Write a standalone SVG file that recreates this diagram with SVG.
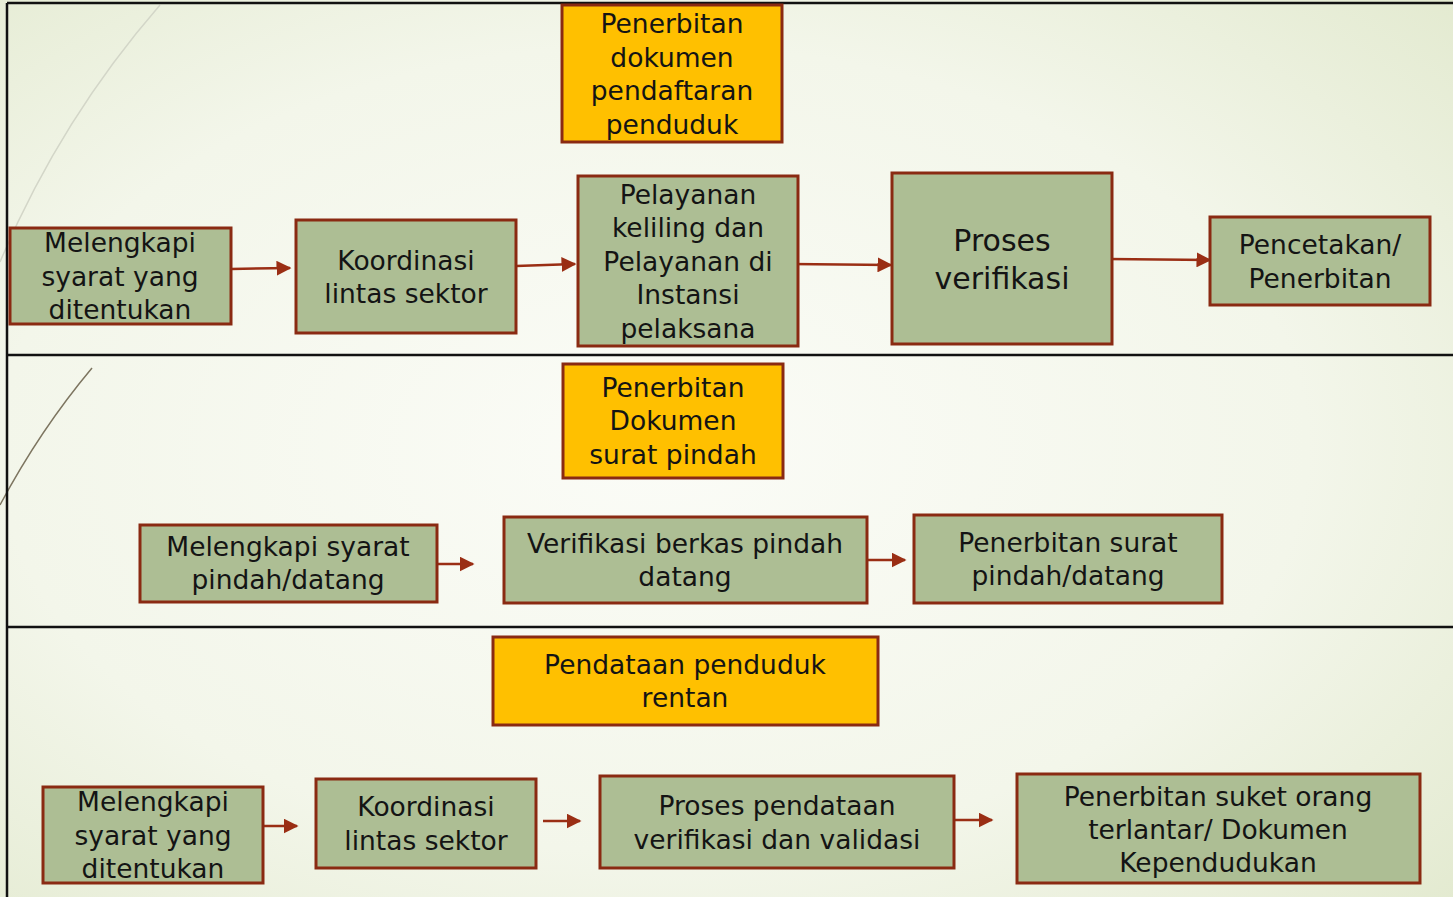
<svg xmlns="http://www.w3.org/2000/svg" width="1453" height="897" viewBox="0 0 1453 897">
<defs>
<radialGradient id="bg" cx="0.45" cy="0.5" r="0.75">
<stop offset="0" stop-color="#fbfcf7"/>
<stop offset="0.6" stop-color="#f3f6ea"/>
<stop offset="1" stop-color="#e3ead0"/>
</radialGradient>
<marker id="ah" viewBox="0 0 10 10" refX="9" refY="5" markerWidth="6" markerHeight="6" markerUnits="strokeWidth" orient="auto">
<path d="M0,0 L10,5 L0,10 z" fill="#9a2e14"/>
</marker>
<style>
.g{fill:#adbe94;stroke:#8a2a12;stroke-width:3}
.y{fill:#ffc000;stroke:#8a2a12;stroke-width:3}
.t{font-family:"DejaVu Sans",sans-serif;font-size:26.5px;fill:#141414;text-anchor:middle}
.tb{font-family:"DejaVu Sans",sans-serif;font-size:30px;fill:#141414;text-anchor:middle}
.c{stroke:#9a2e14;stroke-width:2.5;fill:none;marker-end:url(#ah)}
.ln{stroke:#111;stroke-width:2.5}
</style>
</defs>
<rect width="1453" height="897" fill="url(#bg)"/>
<path d="M160,5 Q60,120 0,262" fill="none" stroke="#d3d6c8" stroke-width="1.5"/>
<path d="M92,368 Q40,430 0,505" fill="none" stroke="#7d7560" stroke-width="1.5"/>
<g id="frame">
<line class="ln" x1="7" y1="3" x2="1453" y2="3"/>
<line class="ln" x1="7" y1="3" x2="7" y2="897"/>
<line class="ln" x1="7" y1="355" x2="1453" y2="355"/>
<line class="ln" x1="7" y1="627" x2="1453" y2="627"/>
</g>
<g id="connectors">
<line class="c" x1="231" y1="269" x2="290" y2="268"/>
<line class="c" x1="516" y1="266" x2="575" y2="264"/>
<line class="c" x1="790" y1="264" x2="891" y2="265"/>
<line class="c" x1="1108" y1="259" x2="1210" y2="260"/>
<line class="c" x1="437" y1="564" x2="473" y2="564"/>
<line class="c" x1="867" y1="560" x2="905" y2="560"/>
<line class="c" x1="260" y1="826" x2="297" y2="826"/>
<line class="c" x1="543" y1="821" x2="580" y2="821"/>
<line class="c" x1="954" y1="820" x2="992" y2="820"/>
</g>
<g id="n1">
<rect class="y" x="562" y="5" width="220" height="137"/>
<text class="t" x="672" y="33">Penerbitan</text>
<text class="t" x="672" y="67">dokumen</text>
<text class="t" x="672" y="100">pendaftaran</text>
<text class="t" x="672" y="134">penduduk</text>
</g>
<g id="n2">
<rect class="g" x="10" y="228" width="221" height="96"/>
<text class="t" x="120" y="252">Melengkapi</text>
<text class="t" x="120" y="286">syarat yang</text>
<text class="t" x="120" y="319">ditentukan</text>
</g>
<g id="n3">
<rect class="g" x="296" y="220" width="220" height="113"/>
<text class="t" x="406" y="270">Koordinasi</text>
<text class="t" x="406" y="303">lintas sektor</text>
</g>
<g id="n4">
<rect class="g" x="578" y="176" width="220" height="170"/>
<text class="t" x="688" y="204">Pelayanan</text>
<text class="t" x="688" y="237">keliling dan</text>
<text class="t" x="688" y="271">Pelayanan di</text>
<text class="t" x="688" y="304">Instansi</text>
<text class="t" x="688" y="338">pelaksana</text>
</g>
<g id="n5">
<rect class="g" x="892" y="173" width="220" height="171"/>
<text class="tb" x="1002" y="251">Proses</text>
<text class="tb" x="1002" y="289">verifikasi</text>
</g>
<g id="n6">
<rect class="g" x="1210" y="217" width="220" height="88"/>
<text class="t" x="1320" y="254">Pencetakan/</text>
<text class="t" x="1320" y="288">Penerbitan</text>
</g>
<g id="n7">
<rect class="y" x="563" y="364" width="220" height="114"/>
<text class="t" x="673" y="397">Penerbitan</text>
<text class="t" x="673" y="430">Dokumen</text>
<text class="t" x="673" y="464">surat pindah</text>
</g>
<g id="n8">
<rect class="g" x="140" y="525" width="297" height="77"/>
<text class="t" x="288" y="556">Melengkapi syarat</text>
<text class="t" x="288" y="589">pindah/datang</text>
</g>
<g id="n9">
<rect class="g" x="504" y="517" width="363" height="86"/>
<text class="t" x="685" y="553">Verifikasi berkas pindah</text>
<text class="t" x="685" y="586">datang</text>
</g>
<g id="n10">
<rect class="g" x="914" y="515" width="308" height="88"/>
<text class="t" x="1068" y="552">Penerbitan surat</text>
<text class="t" x="1068" y="585">pindah/datang</text>
</g>
<g id="n11">
<rect class="y" x="493" y="637" width="385" height="88"/>
<text class="t" x="685" y="674">Pendataan penduduk</text>
<text class="t" x="685" y="707">rentan</text>
</g>
<g id="n12">
<rect class="g" x="43" y="787" width="220" height="96"/>
<text class="t" x="153" y="811">Melengkapi</text>
<text class="t" x="153" y="845">syarat yang</text>
<text class="t" x="153" y="878">ditentukan</text>
</g>
<g id="n13">
<rect class="g" x="316" y="779" width="220" height="89"/>
<text class="t" x="426" y="816">Koordinasi</text>
<text class="t" x="426" y="850">lintas sektor</text>
</g>
<g id="n14">
<rect class="g" x="600" y="776" width="354" height="92"/>
<text class="t" x="777" y="815">Proses pendataan</text>
<text class="t" x="777" y="849">verifikasi dan validasi</text>
</g>
<g id="n15">
<rect class="g" x="1017" y="774" width="403" height="109"/>
<text class="t" x="1218" y="806">Penerbitan suket orang</text>
<text class="t" x="1218" y="839">terlantar/ Dokumen</text>
<text class="t" x="1218" y="872">Kependudukan</text>
</g>
</svg>
